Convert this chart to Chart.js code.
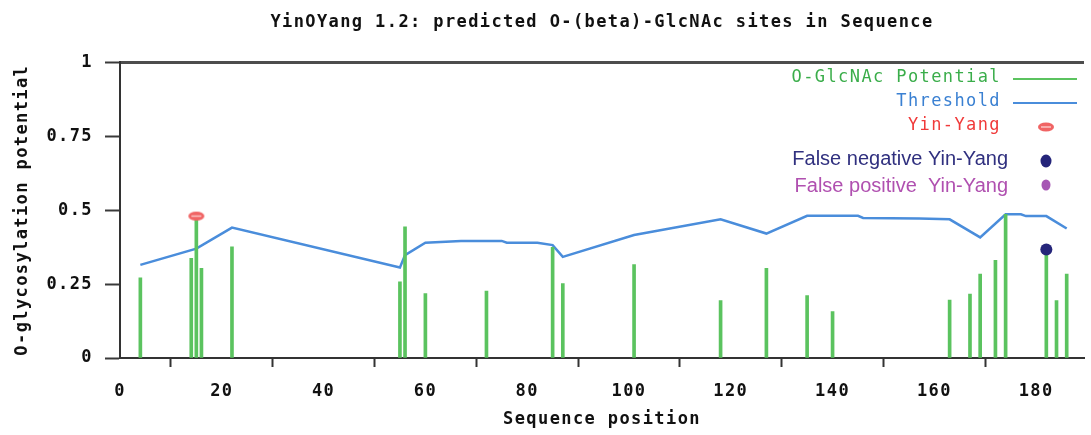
<!DOCTYPE html>
<html>
<head>
<meta charset="utf-8">
<title>YinOYang 1.2</title>
<script src="https://cdn.jsdelivr.net/npm/chart.js@4.4.1/dist/chart.umd.min.js"></script>
<style>
  html, body { margin: 0; padding: 0; background: #fff; }
  #wrap { width: 1091px; height: 435px; }
</style>
</head>
<body>
<div id="wrap"><canvas id="glycoChart"></canvas></div>
<script>
// values
const sitePositions = [4, 14, 15, 16, 22, 55, 56, 60, 72, 85, 87, 101, 118, 127, 135, 140, 163, 167, 169, 172, 174, 182, 184, 186];
const potential = [0.271, 0.337, 0.477, 0.303, 0.376, 0.258, 0.444, 0.218, 0.226, 0.374, 0.252, 0.316, 0.194, 0.303, 0.211, 0.157, 0.196, 0.216, 0.284, 0.33, 0.486, 0.36, 0.194, 0.284];

const thresholdPositions = [4, 15, 22, 55, 56, 60, 67, 75, 76, 82, 85, 87, 101, 118, 127, 135, 145, 146, 157, 163, 169, 174, 177, 178, 182, 186];
const threshold = [0.315, 0.37, 0.441, 0.306, 0.348, 0.39, 0.396, 0.396, 0.39, 0.39, 0.382, 0.342, 0.416, 0.469, 0.421, 0.481, 0.481, 0.474, 0.472, 0.469, 0.408, 0.486, 0.486, 0.48, 0.48, 0.438];

const yinYangPositions = [15];
const yinYangValues = [0.48];
const falseNegPositions = [182];
const falseNegValues = [0.367];
const falsePosPositions = [];
const falsePosValues = [];

const xTicks = [0, 20, 40, 60, 80, 100, 120, 140, 160, 180];
const yTicks = [0, 0.25, 0.5, 0.75, 1];

const pairs = (xs, ys) => xs.map((x, i) => ({ x: x, y: ys[i] }));

function drawYinYangMark(ctx, x, y) {
    ctx.save();
    ctx.fillStyle = '#f06464';
    ctx.beginPath();
    ctx.ellipse(x, y, 8, 4.5, 0, 0, Math.PI * 2);
    ctx.fill();
    ctx.strokeStyle = '#fbc4c4';
    ctx.lineWidth = 1.5;
    ctx.beginPath();
    ctx.moveTo(x - 5, y);
    ctx.lineTo(x + 5, y);
    ctx.stroke();
    ctx.restore();
}

const yinYangPoint = document.createElement('canvas');
yinYangPoint.width = 18;
yinYangPoint.height = 11;
drawYinYangMark(yinYangPoint.getContext('2d'), 9, 5.5);

const MONO = '"DejaVu Sans Mono", monospace';
const GAP = '1.4px';

// wide pixel-font look
const spacing = {
    id: 'spacing',
    beforeLayout(chart) { chart.ctx.letterSpacing = GAP; },
    beforeDraw(chart) { chart.ctx.letterSpacing = GAP; }
};

const legendRows = {
    id: 'legendRows',
    afterDraw(chart) {
        const ctx = chart.ctx;
        const ds = chart.data.datasets;
        ctx.save();
        ctx.textBaseline = 'middle';
        ctx.textAlign = 'right';

        ctx.letterSpacing = GAP;
        ctx.font = '17px ' + MONO;
        ctx.fillStyle = '#3aad4a';
        ctx.fillText(ds[0].label, 1001, 78);
        ctx.strokeStyle = ds[0].backgroundColor;
        ctx.lineWidth = 2;
        ctx.beginPath(); ctx.moveTo(1013, 79); ctx.lineTo(1077, 79); ctx.stroke();

        ctx.fillStyle = '#3a80d2';
        ctx.fillText(ds[1].label, 1001, 102);
        ctx.strokeStyle = ds[1].borderColor;
        ctx.beginPath(); ctx.moveTo(1013, 103); ctx.lineTo(1077, 103); ctx.stroke();

        ctx.fillStyle = '#f03a3a';
        ctx.fillText(ds[2].label, 1001, 126);
        drawYinYangMark(ctx, 1046, 127);

        ctx.letterSpacing = '0px';
        ctx.font = '20px "Liberation Sans", Arial, sans-serif';
        ctx.fillStyle = '#30307f';
        ctx.fillText(ds[3].label, 1008, 159);
        ctx.fillStyle = ds[3].backgroundColor;
        ctx.beginPath(); ctx.ellipse(1046, 161, 5.5, 6.5, 0, 0, Math.PI * 2); ctx.fill();

        ctx.fillStyle = '#b050b0';
        ctx.fillText(ds[4].label, 1008, 186);
        ctx.fillStyle = ds[4].backgroundColor;
        ctx.beginPath(); ctx.ellipse(1046, 185, 4.5, 5.5, 0, 0, Math.PI * 2); ctx.fill();

        ctx.restore();
    }
};

Chart.defaults.font.family = MONO;
Chart.defaults.font.size = 17;
Chart.defaults.color = '#111';

const ctx = document.getElementById('glycoChart').getContext('2d');
new Chart(ctx, {
    type: 'bar',
    data: {
        datasets: [
            {
                type: 'bar',
                label: 'O-GlcNAc Potential',
                data: pairs(sitePositions, potential),
                backgroundColor: '#5bc35f',
                barThickness: 3,
                grouped: false,
                order: 1
            },
            {
                type: 'line',
                label: 'Threshold',
                data: pairs(thresholdPositions, threshold),
                borderColor: '#4a8ddb',
                borderWidth: 2.5,
                pointRadius: 0,
                tension: 0,
                fill: false,
                order: 2
            },
            {
                type: 'scatter',
                label: 'Yin-Yang',
                data: pairs(yinYangPositions, yinYangValues),
                pointStyle: yinYangPoint,
                pointRadius: 6,
                order: 0
            },
            {
                type: 'scatter',
                label: 'False negative Yin-Yang',
                data: pairs(falseNegPositions, falseNegValues),
                backgroundColor: '#25257a',
                borderWidth: 0,
                pointRadius: 6,
                order: 0
            },
            {
                type: 'scatter',
                label: 'False positive  Yin-Yang',
                data: pairs(falsePosPositions, falsePosValues),
                backgroundColor: '#a656b4',
                borderWidth: 0,
                pointRadius: 5,
                order: 0
            }
        ]
    },
    options: {
        responsive: true,
        maintainAspectRatio: false,
        animation: false,
        layout: { padding: 0 },
        plugins: {
            legend: { display: false },
            tooltip: { enabled: false },
            title: {
                display: true,
                fullSize: false,
                text: 'YinOYang 1.2: predicted O-(beta)-GlcNAc sites in Sequence',
                font: { size: 17, weight: 'bold' },
                color: '#111',
                padding: { top: 12, bottom: 30 }
            }
        },
        scales: {
            x: {
                type: 'linear',
                offset: false,
                min: 0,
                max: 189.4,
                afterBuildTicks: scale => { scale.ticks = xTicks.map(v => ({ value: v })); },
                afterFit: scale => { scale.height = 77; },
                ticks: { font: { size: 17, weight: 'bold' }, padding: 14, maxRotation: 0, callback: v => String(v) },
                grid: { drawOnChartArea: false, tickLength: 9, tickColor: '#333', tickWidth: 2 },
                border: { color: '#333', width: 2 },
                title: {
                    display: true,
                    text: 'Sequence position',
                    font: { size: 17, weight: 'bold' },
                    padding: { top: 0, bottom: 5 }
                }
            },
            y: {
                min: 0,
                max: 1,
                afterBuildTicks: scale => { scale.ticks = yTicks.map(v => ({ value: v })); },
                afterFit: scale => { scale.width = 120; },
                ticks: { font: { size: 17, weight: 'bold' }, padding: 12, callback: v => String(v) },
                grid: {
                    color: c => (c.tick && c.tick.value === 1 ? '#4d4d4d' : 'rgba(0,0,0,0)'),
                    lineWidth: c => (c.tick && c.tick.value === 1 ? 3 : 1),
                    tickLength: 15,
                    tickColor: '#3a3a3a',
                    tickWidth: 2
                },
                border: { color: '#333', width: 2 },
                title: {
                    display: true,
                    text: 'O-glycosylation potential',
                    font: { size: 17, weight: 'bold' },
                    padding: { top: 12, bottom: 0 }
                }
            }
        }
    },
    plugins: [spacing, legendRows]
});
</script>
</body>
</html>
